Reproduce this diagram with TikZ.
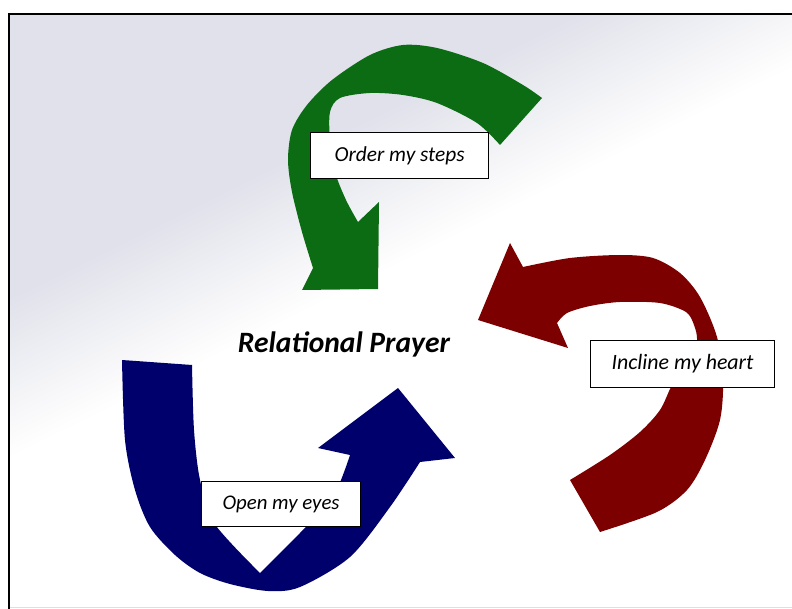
\documentclass[tikz,border=0pt]{standalone}
\usepackage{fontspec}
\setmainfont{Carlito}
\usepackage{graphicx}
\definecolor{arrGreen}{RGB}{12,108,20}
\definecolor{arrRed}{RGB}{124,0,0}
\definecolor{arrBlue}{RGB}{0,0,108}
\definecolor{bgGray}{RGB}{224,225,234}
\begin{document}
\begin{tikzpicture}[x=1pt,y=-1pt,
  labelbox/.style={draw=black, line width=1.1pt, fill=white, inner sep=0pt, anchor=north west},
  labeltext/.style={inner sep=0pt, font=\itshape}]
\useasboundingbox (0,0) rectangle (792,609);
\fill[white] (0,0) rectangle (792,609);
% background gradient
\begin{scope}
  \clip (9,14) rectangle (792,607);
  \begin{scope}[shift={(9,462)}, rotate=26.5]
    \foreach \i [evaluate=\i as \p using {min(100,\i*3.4)}] in {0,...,30}
      \fill[bgGray!\p!white] (-400,-\i*5) rectangle (1300,-\i*5-5.6);
    \fill[bgGray] (-400,-155) rectangle (1300,-800);
  \end{scope}
\end{scope}
% frame
\draw[line width=2pt] (9,609) -- (9,14) -- (792,14);
\draw[gray!25, line width=1.5pt] (10,607.5) -- (792,607.5);
% green arrow
\fill[arrGreen] (542,98) -- (500,145)
  -- plot[smooth] coordinates {(500,145) (477,123) (437,103) (403,95) (370,93) (340,98) (330,112) (330,140) (335,172) (346,200) (358,222)}
  -- (379,202) -- (378,289) -- (302,290) -- (313,268)
  -- plot[smooth] coordinates {(313,268) (302,232) (292,192) (288,160) (292,130) (307,105) (332,80) (370,55) (403,45) (437,48) (483,63) (523,85) (542,98)}
  -- cycle;
% red arrow
\fill[arrRed] (478,320) -- (510,243) -- (523,267)
  -- plot[smooth] coordinates {(523,267) (570,258) (620,255) (653,258) (680,273) (700,297) (717,337) (723,380) (720,420) (705,460) (687,490) (657,512) (600,532)}
  -- (570,480)
  -- plot[smooth] coordinates {(570,480) (610,455) (640,432) (660,410) (672,385) (690,355) (697,340) (694,325) (686,312) (660,303) (620,302) (590,306) (567,313) (557,323)}
  -- (568,348) -- cycle;
% blue arrow
\fill[arrBlue] (122,360) -- (192,365)
  -- plot[smooth] coordinates {(192,365) (194,430) (200,480) (214,523) (260,573)}
  -- plot[smooth] coordinates {(260,573) (300,533) (333,497) (350,455)}
  -- (318,448) -- (398,388) -- (455,458) -- (420,462)
  -- plot[smooth] coordinates {(420,462) (390,507) (350,557) (300,587) (268,591) (230,584) (200,573) (175,555) (150,527) (135,490) (125,440) (122,360)}
  -- cycle;
% labels
\node[labelbox, minimum width=178pt, minimum height=46pt] (order) at (310,132) {};
\node[labeltext] (ordert) at (order.center) {\resizebox{130pt}{!}{\itshape Order my steps}};
\node[labelbox, minimum width=184pt, minimum height=47pt] (incline) at (590,340) {};
\node[labeltext] (inclinet) at (incline.center) {\resizebox{142pt}{!}{\itshape Incline my heart}};
\node[labelbox, minimum width=159pt, minimum height=45pt] (open) at (201,481) {};
\node[labeltext] (opent) at (open.center) {\resizebox{117pt}{!}{\itshape Open my eyes}};
\node[inner sep=0pt] (center) at (344,344) {\resizebox{212pt}{!}{\bfseries\itshape Relational Prayer}};
\end{tikzpicture}
\end{document}
